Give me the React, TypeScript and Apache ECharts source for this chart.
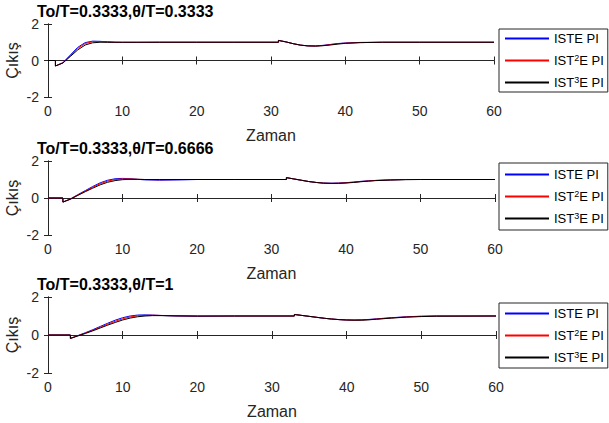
import React, { useEffect, useRef } from "react";
import * as echarts from "echarts";

// ---------- data ----------
const seriesNames = ["ISTE PI", "IST2E PI", "IST3E PI"];
const seriesColors = ["#0000FF", "#FF0000", "#000000"];
const titles = ["To/T=0.3333,θ/T=0.3333", "To/T=0.3333,θ/T=0.6666", "To/T=0.3333,θ/T=1"];
const xTicks = [0, 10, 20, 30, 40, 50, 60];
const yTicks = [-2, 0, 2];

// subplot 1 (θ/T = 0.3333)
const t1 = [0, 1, 1, 2, 3, 4, 5, 6, 7, 8, 9, 10, 12, 15, 20, 25, 31, 31, 32, 33, 34, 35, 36, 37, 38, 39, 40, 42, 45, 50, 60];
const iste1 = [0, 0, -0.3, -0.12, 0.3, 0.72, 0.98, 1.06, 1.05, 1.02, 1.0, 0.99, 0.99, 1, 1, 1, 1, 1.1, 1.02, 0.92, 0.84, 0.8, 0.8, 0.83, 0.88, 0.93, 0.96, 0.99, 1, 1, 1];
const ist2e1 = [0, 0, -0.3, -0.13, 0.26, 0.66, 0.93, 1.03, 1.04, 1.02, 1.0, 1.0, 1, 1, 1, 1, 1, 1.1, 1.02, 0.92, 0.84, 0.8, 0.79, 0.82, 0.87, 0.92, 0.95, 0.98, 1, 1, 1];
const ist3e1 = [0, 0, -0.3, -0.14, 0.22, 0.58, 0.85, 0.97, 1.0, 1.0, 1.0, 1.0, 1, 1, 1, 1, 1, 1.1, 1.02, 0.92, 0.84, 0.8, 0.79, 0.81, 0.85, 0.9, 0.94, 0.98, 1, 1, 1];

// subplot 2 (θ/T = 0.6666)
const t2 = [0, 2, 2, 3, 4, 5, 6, 7, 8, 9, 10, 11, 12, 13, 15, 18, 20, 25, 32, 32, 33, 34, 35, 36, 37, 38, 39, 40, 41, 42, 43, 44, 46, 48, 50, 60];
const iste2 = [0, 0, -0.22, -0.05, 0.18, 0.4, 0.62, 0.82, 0.96, 1.04, 1.06, 1.04, 1.01, 0.98, 0.96, 0.98, 1, 1, 1, 1.1, 1.03, 0.96, 0.89, 0.84, 0.81, 0.8, 0.81, 0.83, 0.86, 0.9, 0.93, 0.95, 0.98, 1, 1, 1];
const ist2e2 = [0, 0, -0.22, -0.06, 0.16, 0.37, 0.58, 0.77, 0.91, 1.0, 1.03, 1.03, 1.01, 1.0, 0.99, 1, 1, 1, 1, 1.1, 1.03, 0.96, 0.89, 0.84, 0.8, 0.79, 0.8, 0.82, 0.85, 0.89, 0.92, 0.95, 0.98, 1, 1, 1];
const ist3e2 = [0, 0, -0.22, -0.07, 0.14, 0.34, 0.53, 0.71, 0.85, 0.94, 0.99, 1.01, 1.01, 1.0, 1, 1, 1, 1, 1, 1.1, 1.03, 0.96, 0.89, 0.84, 0.8, 0.79, 0.79, 0.81, 0.84, 0.88, 0.91, 0.94, 0.97, 0.99, 1, 1];

// subplot 3 (θ/T = 1)
const t3 = [0, 3, 3, 4, 5, 6, 7, 8, 9, 10, 11, 12, 13, 14, 15, 17, 20, 25, 33, 33, 34, 35, 36, 37, 38, 39, 40, 41, 42, 43, 44, 45, 46, 48, 50, 52, 60];
const iste3 = [0, 0, -0.18, -0.03, 0.12, 0.28, 0.45, 0.62, 0.78, 0.91, 1.0, 1.05, 1.06, 1.05, 1.03, 1.0, 0.98, 1, 1, 1.08, 1.03, 0.98, 0.93, 0.88, 0.84, 0.81, 0.79, 0.79, 0.8, 0.82, 0.85, 0.88, 0.91, 0.96, 0.99, 1, 1];
const ist2e3 = [0, 0, -0.18, -0.04, 0.1, 0.25, 0.41, 0.57, 0.72, 0.85, 0.95, 1.01, 1.03, 1.04, 1.03, 1.01, 1.0, 1, 1, 1.08, 1.03, 0.98, 0.93, 0.88, 0.84, 0.81, 0.79, 0.78, 0.79, 0.81, 0.84, 0.87, 0.9, 0.95, 0.98, 1, 1];
const ist3e3 = [0, 0, -0.18, -0.05, 0.08, 0.22, 0.37, 0.52, 0.66, 0.79, 0.89, 0.96, 1.0, 1.02, 1.02, 1.01, 1.0, 1, 1, 1.08, 1.03, 0.98, 0.93, 0.88, 0.84, 0.81, 0.79, 0.78, 0.78, 0.8, 0.83, 0.86, 0.89, 0.94, 0.97, 0.99, 1];

const panels = [
  { t: t1, values: [iste1, ist2e1, ist3e1] },
  { t: t2, values: [iste2, ist2e2, ist3e2] },
  { t: t3, values: [iste3, ist2e3, ist3e3] },
];

// ---------- layout ----------
const FONT = "'Liberation Sans', Arial, Helvetica, sans-serif";
const AX = "#262626";
const grids = [
  { left: 48, top: 24, width: 446, height: 73 },
  { left: 48, top: 161, width: 447, height: 74 },
  { left: 48, top: 297, width: 448, height: 76 },
];
const legendTops = [29, 163, 303];
const legendPads = [
  [3, 4, 3, 5],
  [5, 4, 5, 5],
  [4, 4, 4, 5],
];
const titleTops = [4, 141, 277];

export default function App() {
  const ref = useRef<HTMLDivElement>(null);
  useEffect(() => {
    if (!ref.current) return;
    const chart = echarts.init(ref.current, null, { renderer: "svg" });
    const xAxes: any[] = [];
    const yAxes: any[] = [];
    const series: any[] = [];
    const legends: any[] = [];
    const titleOpts: any[] = [];
    grids.forEach((g, i) => {
      const common = {
        gridIndex: i,
        type: "value",
        axisLine: { show: true, lineStyle: { color: AX, width: 1 } },
        axisTick: { show: true, inside: true, length: 4, lineStyle: { color: AX } },
        splitLine: { show: false },
      };
      xAxes.push({
        ...common,
        position: "bottom",
        min: xTicks[0],
        max: xTicks[xTicks.length - 1],
        interval: 10,
        name: "Zaman",
        nameLocation: "middle",
        nameGap: 30,
        nameMoveOverlap: false,
        nameTextStyle: { fontFamily: FONT, fontSize: 16, color: AX },
        axisLabel: { fontFamily: FONT, fontSize: 14, color: AX, margin: 7, lineHeight: 14 },
      });
      xAxes.push({
        ...common,
        position: "top",
        min: xTicks[0],
        max: xTicks[xTicks.length - 1],
        interval: 10,
        axisLabel: { show: false },
      });
      yAxes.push({
        ...common,
        position: "left",
        min: yTicks[0],
        max: yTicks[yTicks.length - 1],
        interval: 2,
        name: "Çıkış",
        nameLocation: "middle",
        nameGap: 28,
        nameMoveOverlap: false,
        nameTextStyle: { fontFamily: FONT, fontSize: 16, color: AX },
        axisLabel: { fontFamily: FONT, fontSize: 14, color: AX, margin: 9, lineHeight: 10 },
      });
      yAxes.push({
        ...common,
        position: "right",
        min: yTicks[0],
        max: yTicks[yTicks.length - 1],
        interval: 2,
        axisLabel: { show: false },
      });
      const p = panels[i];
      p.values.forEach((vals, k) => {
        series.push({
          type: "line",
          name: seriesNames[k],
          xAxisIndex: 2 * i,
          yAxisIndex: 2 * i,
          data: p.t.map((tt, j) => [tt, vals[j]]),
          symbol: "none",
          showSymbol: false,
          color: seriesColors[k],
          lineStyle: { color: seriesColors[k], width: 1 },
          z: 2 + k,
        });
      });
      legends.push({
        data: seriesNames,
        orient: "vertical",
        left: 499,
        top: legendTops[i],
        padding: legendPads[i],
        itemGap: 8,
        itemWidth: 44,
        itemHeight: 14,
        borderColor: AX,
        borderWidth: 1,
        backgroundColor: "#fff",
        selectedMode: false,
        itemStyle: { color: "transparent", borderWidth: 0, opacity: 0 },
        formatter: (name: string) => name.replace(/(\d)/, "{sup|$1}"),
        textStyle: {
          fontFamily: FONT,
          fontSize: 13,
          color: "#000",
          rich: {
            sup: { fontFamily: FONT, fontSize: 9, color: "#000", verticalAlign: "top", padding: [0, 0, 6, 0] },
          },
        },
      });
      titleOpts.push({
        text: titles[i],
        left: 37,
        top: titleTops[i],
        padding: 0,
        textStyle: { fontFamily: FONT, fontSize: 16, lineHeight: 14, fontWeight: "bold", color: "#000" },
      });
    });
    chart.setOption({
      animation: false,
      backgroundColor: "#fff",
      title: titleOpts,
      grid: grids.map((g) => ({ ...g, containLabel: false, outerBoundsMode: "none" })),
      xAxis: xAxes,
      yAxis: yAxes,
      legend: legends,
      series,
    });
    return () => chart.dispose();
  }, []);
  return (
    <div
      ref={ref}
      style={{ position: "absolute", left: 0, top: 0, width: 609, height: 423, background: "#fff" }}
    />
  );
}
